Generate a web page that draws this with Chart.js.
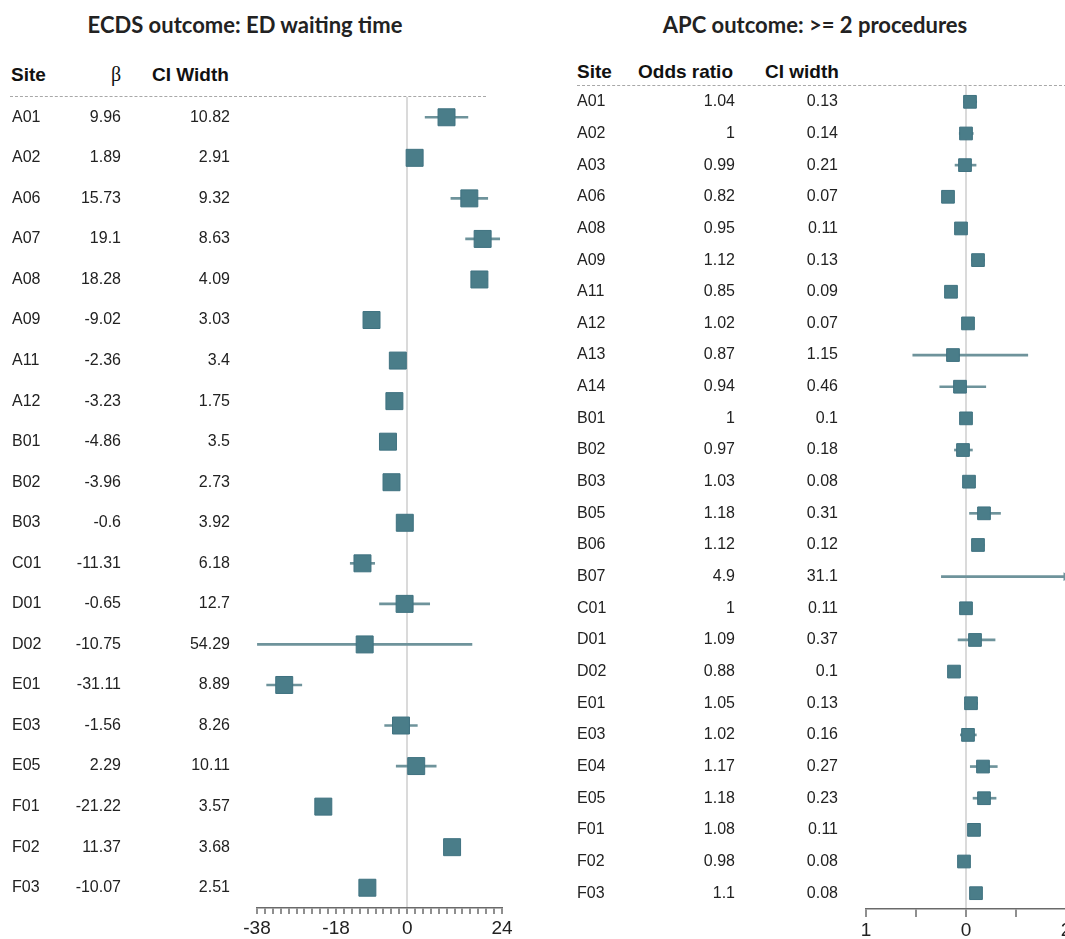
<!DOCTYPE html>
<html>
<head>
<meta charset="utf-8">
<script src="https://cdn.jsdelivr.net/npm/chart.js@4.4.1/dist/chart.umd.min.js"></script>
<style>
  html, body { margin: 0; padding: 0; background: #fff; overflow: hidden; }
  #page { position: relative; width: 1065px; height: 939px; overflow: hidden; }
  .title { position: absolute; top: 11px; font: bold 22px Lato, "Open Sans", sans-serif; color: #222; white-space: nowrap; transform: translateX(-50%); }
  .head { position: absolute; font: bold 19px "Liberation Sans", Arial, sans-serif; color: #111; white-space: nowrap; }
  .beta { font: 20px "Liberation Serif", "Times New Roman", serif; font-weight: normal; }
  .dash { position: absolute; height: 0; border-top: 1.5px dashed #a8a8a8; }
  canvas { position: absolute; top: 0; }
</style>
</head>
<body>
<div id="page">
  <div class="title" style="left:245px">ECDS outcome: ED waiting time</div>
  <div class="title" style="left:815px">APC outcome: &gt;= 2 procedures</div>

  <div class="head" style="left:11px; top:64px">Site</div>
  <div class="head beta" style="left:111px; top:63px">β</div>
  <div class="head" style="left:152px; top:64px">CI Width</div>
  <div class="dash" style="left:10px; top:96px; width:476px"></div>

  <div class="head" style="left:577px; top:61px">Site</div>
  <div class="head" style="left:638px; top:61px">Odds ratio</div>
  <div class="head" style="left:765px; top:61px">CI width</div>
  <div class="dash" style="left:577px; top:85px; width:490px"></div>

  <canvas id="ecds" style="left:0px"></canvas>
  <canvas id="apc" style="left:560px"></canvas>
</div>
<script>
// ECDS outcome: ED waiting time
const ecdsSites = ["A01", "A02", "A06", "A07", "A08", "A09", "A11", "A12", "B01", "B02",
  "B03", "C01", "D01", "D02", "E01", "E03", "E05", "F01", "F02", "F03"];
const ecdsBeta = [9.96, 1.89, 15.73, 19.1, 18.28, -9.02, -2.36, -3.23, -4.86, -3.96,
  -0.6, -11.31, -0.65, -10.75, -31.11, -1.56, 2.29, -21.22, 11.37, -10.07];
const ecdsCiWidth = [10.82, 2.91, 9.32, 8.63, 4.09, 3.03, 3.4, 1.75, 3.5, 2.73,
  3.92, 6.18, 12.7, 54.29, 8.89, 8.26, 10.11, 3.57, 3.68, 2.51];
const ecdsTickLabels = [-38, -18, 0, 24];

// APC outcome: >= 2 procedures
const apcSites = ["A01", "A02", "A03", "A06", "A08", "A09", "A11", "A12", "A13", "A14",
  "B01", "B02", "B03", "B05", "B06", "B07", "C01", "D01", "D02", "E01",
  "E03", "E04", "E05", "F01", "F02", "F03"];
const apcOdds = [1.04, 1, 0.99, 0.82, 0.95, 1.12, 0.85, 1.02, 0.87, 0.94,
  1, 0.97, 1.03, 1.18, 1.12, 4.9, 1, 1.09, 0.88, 1.05,
  1.02, 1.17, 1.18, 1.08, 0.98, 1.1];
const apcCiWidth = [0.13, 0.14, 0.21, 0.07, 0.11, 0.13, 0.09, 0.07, 1.15, 0.46,
  0.1, 0.18, 0.08, 0.31, 0.12, 31.1, 0.11, 0.37, 0.1, 0.13,
  0.16, 0.27, 0.23, 0.11, 0.08, 0.08];
const apcTickLabels = ["1", "", "0", "", "2"];

const markerColor = "#4a7d89";
const ciColor = "#6e939b";
const textFont = { family: "'Liberation Sans', Arial, sans-serif", size: 16 };

// a y axis that is really a table column; the (hidden) tick length pushes
// right-aligned text away from the axis without adding vertical padding
function column(labels, weight, width, align, gap) {
  return {
    type: "category",
    position: "left",
    labels: labels,
    offset: true,
    weight: weight,
    grid: { display: false, drawTicks: true, tickLength: gap },
    border: { display: false },
    ticks: { autoSkip: false, crossAlign: align, padding: 0, color: "#222", font: textFont },
    afterFit: (s) => { s.width = width; },
  };
}

function forest(canvasId, cfg) {
  const el = document.getElementById(canvasId);
  el.width = cfg.w;
  el.height = 939;
  el.style.width = cfg.w + "px";
  el.style.height = "939px";

  const datasets = [
    {
      type: "scatter",
      data: cfg.values.map((v, i) => ({ x: v, y: cfg.sites[i] })),
      pointStyle: "rect",
      pointRadius: cfg.radius,
      pointBackgroundColor: markerColor,
      pointBorderColor: "#3f7280",
      pointBorderWidth: 1,
      yAxisID: "y",
      order: 0,
    },
    {
      type: "bar",
      data: cfg.ranges,
      backgroundColor: ciColor,
      borderWidth: 0,
      barThickness: 2,
      yAxisID: "y",
      order: 1,
    },
  ];
  if (cfg.arrows) {
    datasets.push({
      type: "scatter",
      data: cfg.arrows,
      pointStyle: "triangle",
      rotation: 90,
      pointRadius: 5,
      pointBackgroundColor: ciColor,
      pointBorderWidth: 0,
      yAxisID: "y",
      clip: false,
      order: 0,
    });
  }

  new Chart(el, {
    type: "bar",
    data: { labels: cfg.sites, datasets: datasets },
    options: {
      indexAxis: "y",
      responsive: false,
      animation: false,
      events: [],
      layout: { padding: cfg.padding },
      plugins: { legend: { display: false }, tooltip: { enabled: false } },
      scales: {
        x: {
          type: "linear",
          min: cfg.min,
          max: cfg.max,
          grid: {
            color: (c) => (c.tick && c.tick.value === cfg.ref ? "#dadada" : "rgba(0,0,0,0)"),
            lineWidth: 2,
            tickColor: "#6a6a6a",
            tickLength: cfg.tickLen,
            tickWidth: 1.5,
          },
          border: { display: true, color: "#6a6a6a", width: 1.5 },
          ticks: {
            stepSize: cfg.step,
            maxTicksLimit: 100,
            autoSkip: false,
            maxRotation: 0,
            padding: cfg.labelPad,
            color: "#222",
            font: { family: "'Liberation Sans', Arial, sans-serif", size: 19 },
            callback: cfg.tickLabel,
          },
          afterFit: (s) => { s.height = cfg.axisH; },
        },
        y: column(cfg.sites, 3, cfg.cols[0], "far", 0),
        yv: column(cfg.values.map(String), 2, cfg.cols[1], "near", cfg.gaps[0]),
        yc: column(cfg.widths.map(String), 1, cfg.cols[2], "near", cfg.gaps[1]),
      },
    },
  });
}

// left panel: beta +/- half CI width
forest("ecds", {
  w: 540,
  sites: ecdsSites,
  values: ecdsBeta,
  widths: ecdsCiWidth,
  ranges: ecdsBeta.map((b, i) => [b - ecdsCiWidth[i] / 2, b + ecdsCiWidth[i] / 2]),
  radius: 12,
  min: -38, max: 24, step: 2, ref: 0,
  tickLabel: (v) => (ecdsTickLabels.includes(v) ? String(v) : ""),
  padding: { top: 97, left: 12, right: 38, bottom: 0 },
  axisH: 31,
  tickLen: 6,
  labelPad: 3,
  cols: [50, 63, 132],
  gaps: [4, 27],
});

// right panel: CI symmetric on the log scale, total width as given
const apcZ = apcOdds.map((o, i) => Math.asinh(apcCiWidth[i] / (2 * o)));
const apcRanges = apcOdds.map((o, i) => [o * Math.exp(-apcZ[i]), o * Math.exp(apcZ[i])]);
const apcMax = 2;
forest("apc", {
  w: 520,
  sites: apcSites,
  values: apcOdds,
  widths: apcCiWidth,
  ranges: apcRanges,
  arrows: apcRanges
    .map((r, i) => (r[1] > apcMax ? { x: apcMax, y: apcSites[i] } : null))
    .filter(Boolean),
  radius: 9,
  min: 0, max: apcMax, step: 0.5, ref: 1,
  tickLabel: (v, i) => apcTickLabels[i] || "",
  padding: { top: 86, left: 17, right: 14, bottom: 0 },
  axisH: 30,
  tickLen: 8,
  labelPad: 2,
  cols: [70, 93, 126],
  gaps: [5, 28],
});
</script>
</body>
</html>
